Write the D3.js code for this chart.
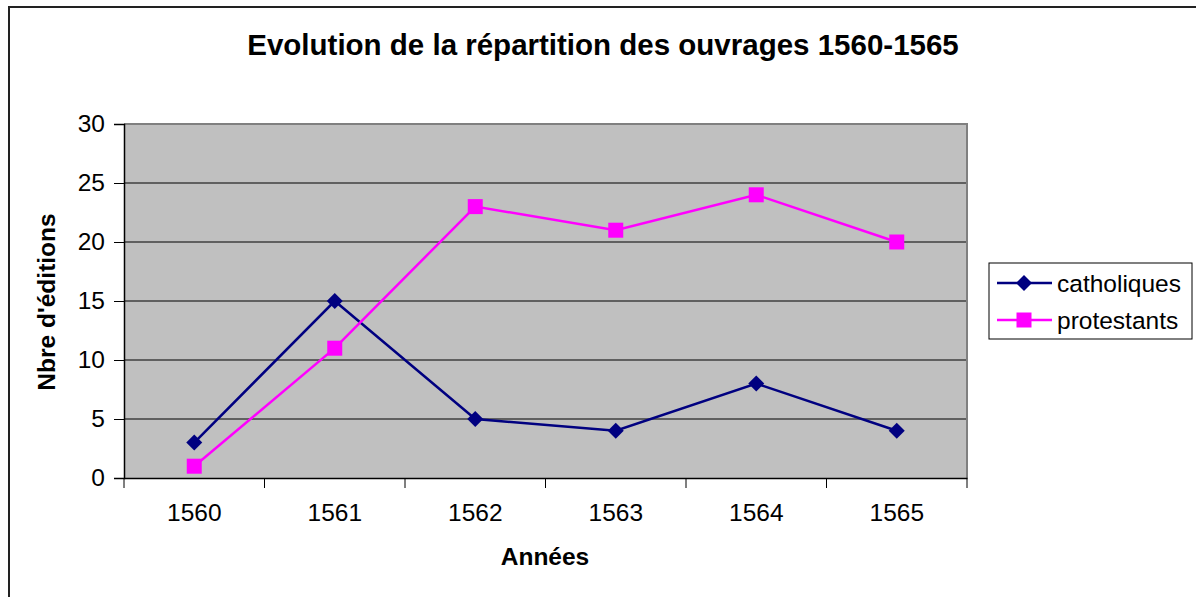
<!DOCTYPE html>
<html><head><meta charset="utf-8">
<script src="https://cdn.jsdelivr.net/npm/d3@7"></script>
<style>body{margin:0;background:#fff}svg{display:block}text{font-family:Arial,"Liberation Sans",sans-serif}</style>
</head><body><svg width="1196" height="597"></svg>
<script>
const years = ["1560","1561","1562","1563","1564","1565"];
const catholiques = [3,15,5,4,8,4];
const protestants = [1,11,23,21,24,20];
const yTicks = [0,5,10,15,20,25,30];
const seriesNames = ["catholiques","protestants"];
const seriesColors = ["#000080","#FF00FF"];

const svg = d3.select("svg");
svg.append("rect").attr("x",9).attr("y",7).attr("width",1200).attr("height",600)
  .attr("fill","#fff").attr("stroke","#222").attr("stroke-width",2);

const L=124,T=124,R=967,B=478;
const x = d3.scaleBand().domain(years).range([L,R]);
const y = d3.scaleLinear().domain([0,30]).range([B,T]);

svg.append("rect").attr("x",L).attr("y",T).attr("width",R-L).attr("height",B-T).attr("fill","#c0c0c0");
svg.append("g").selectAll("line").data(yTicks.filter(d=>d>0&&d<30)).join("line")
  .attr("x1",L).attr("x2",R).attr("y1",d=>y(d)).attr("y2",d=>y(d)).attr("stroke","#000").attr("stroke-width",1);
svg.append("path").attr("d",`M${L},${T}H${R}V${B}`).attr("fill","none").attr("stroke","#808080").attr("stroke-width",2);

const ya = svg.append("g").attr("transform",`translate(${L},0)`)
  .call(d3.axisLeft(y).tickValues(yTicks).tickSize(10).tickPadding(9));
ya.select(".domain").attr("stroke","#000").attr("stroke-width",1.5);
ya.selectAll("text").attr("font-size",24.5).attr("fill","#000").attr("font-family","Arial, 'Liberation Sans', sans-serif");
const xa = svg.append("g").attr("transform",`translate(0,${B})`)
  .call(d3.axisBottom(x).tickSize(0).tickPadding(26));
xa.select(".domain").attr("stroke","#000").attr("stroke-width",1.5);
xa.selectAll("text").attr("font-size",24.5).attr("fill","#000").attr("font-family","Arial, 'Liberation Sans', sans-serif");
xa.selectAll(".bt").data(years.concat(["end"])).join("line")
  .attr("x1",(d,i)=>L+i*x.bandwidth()).attr("x2",(d,i)=>L+i*x.bandwidth())
  .attr("y1",0).attr("y2",10).attr("stroke","#000");

const cx = d=>x(d)+x.bandwidth()/2;
const line = d3.line().x((d,i)=>cx(years[i])).y(d=>y(d));
[catholiques, protestants].forEach((s,k)=>{
  svg.append("path").datum(s).attr("d",line).attr("fill","none").attr("stroke",seriesColors[k]).attr("stroke-width",2.5);
});
svg.append("g").selectAll("path").data(catholiques).join("path")
  .attr("d","M0,-8L8,0L0,8L-8,0Z")
  .attr("transform",(d,i)=>`translate(${cx(years[i])},${y(d)})`).attr("fill",seriesColors[0]);
svg.append("g").selectAll("rect").data(protestants).join("rect")
  .attr("x",(d,i)=>cx(years[i])-7.5).attr("y",d=>y(d)-7.5).attr("width",15).attr("height",15).attr("fill",seriesColors[1]);

svg.append("text").attr("x",603).attr("y",55).attr("text-anchor","middle").attr("font-weight","bold").attr("font-size",29.5)
  .text("Evolution de la répartition des ouvrages 1560-1565");
svg.append("text").attr("x",545).attr("y",565).attr("text-anchor","middle").attr("font-weight","bold").attr("font-size",24.5).text("Années");
svg.append("text").attr("transform","translate(55,302) rotate(-90)").attr("text-anchor","middle").attr("font-weight","bold").attr("font-size",24.5).text("Nbre d'éditions");

const lg = svg.append("g");
lg.append("rect").attr("x",989).attr("y",263).attr("width",203).attr("height",76).attr("fill","#fff").attr("stroke","#000").attr("stroke-width",1);
seriesNames.forEach((n,k)=>{
  const yy = 283 + k*37;
  lg.append("line").attr("x1",997).attr("x2",1052).attr("y1",yy).attr("y2",yy).attr("stroke",seriesColors[k]).attr("stroke-width",2.5);
  if(k===0) lg.append("path").attr("d","M0,-8L8,0L0,8L-8,0Z").attr("transform",`translate(1024,${yy})`).attr("fill",seriesColors[k]);
  else lg.append("rect").attr("x",1016.5).attr("y",yy-7.5).attr("width",15).attr("height",15).attr("fill",seriesColors[k]);
  lg.append("text").attr("x",1057).attr("y",yy+8.5).attr("font-size",24.5).text(n);
});
</script></body></html>
